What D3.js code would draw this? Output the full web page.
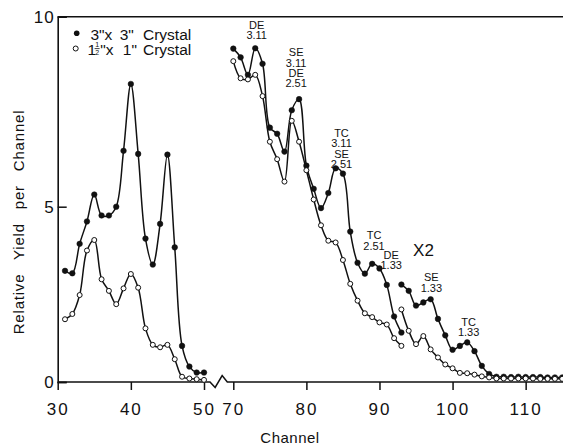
<!DOCTYPE html>
<html>
<head>
<meta charset="utf-8">
<script src="https://cdn.jsdelivr.net/npm/d3@7"></script>
<style>
  html, body { margin: 0; padding: 0; background: #fff; }
  svg { display: block; }
  text { font-family: "Liberation Sans", Arial, sans-serif; fill: #111; }
</style>
</head>
<body>
<svg id="chart" width="563" height="446"></svg>
<script>
// Channel numbers for each measured segment
const leftChannels = [31,32,33,34,35,36,37,38,39,40,41,42,43,44,45,46,47,48,49,50];
const rightChannels = [70,71,72,73,74,75,76,77,78,79,80,81,82,83,84,85,86,87,88,89,90,91,92,93];
const x2Channels = [93,94,95,96,97,98,99,100,101,102,103,104,105,106,107,108,109,110,111,112,113,114,115];

// 3" x 3" crystal (filled dots)
const large_left = [3.17,3.10,3.94,4.58,5.32,4.75,4.75,5.00,6.47,8.23,6.39,4.09,3.35,4.51,6.37,3.84,1.03,0.44,0.27,0.27];
const large_right = [9.16,8.93,8.47,9.17,8.76,7.08,6.92,6.45,7.54,7.83,6.08,5.47,4.96,5.36,6.01,5.87,4.29,3.40,3.09,3.37,3.24,2.77,1.87,1.41];
const large_x2 = [2.78,2.60,2.18,2.27,2.36,1.80,1.33,0.92,1.03,1.13,0.88,0.46,0.23,0.15,0.15,0.14,0.15,0.14,0.14,0.14,0.13,0.13,0.13];

// 1 1/2" x 1" crystal (open circles)
const small_left = [1.79,1.94,2.48,3.75,4.05,2.93,2.60,2.22,2.67,3.08,2.69,1.53,1.06,0.99,1.06,0.65,0.15,0.10,0.08,0.06];
const small_right = [8.83,8.38,8.35,8.47,7.91,6.71,6.25,5.66,7.26,6.71,5.96,5.19,4.47,4.03,3.98,3.48,2.80,2.32,1.96,1.85,1.70,1.64,1.25,1.03];
const small_x2 = [2.07,1.46,1.08,1.31,0.93,0.70,0.50,0.39,0.26,0.25,0.21,0.16,0.13,0.10,0.10,0.10,0.10,0.10,0.10,0.09,0.09,0.09,0.09];

// Axis ticks
const xTicks = [30,40,50,70,80,90,100,110];
const yTicks = [0,5,10];

// Peak identifications: channel / value of the bottom text line, lines of text
const peakLabels = [
  { ch: 73.2,  v: 9.41, lines: ["DE","3.11"] },
  { ch: 78.6,  v: 8.14, lines: ["SE","3.11","DE","2.51"] },
  { ch: 84.8,  v: 6.02, lines: ["TC","3.11","SE","2.51"] },
  { ch: 89.25, v: 3.77, lines: ["TC","2.51"] },
  { ch: 91.6,  v: 3.22, lines: ["DE","1.33"] },
  { ch: 97.1,  v: 2.58, lines: ["SE","1.33"] },
  { ch: 102.2, v: 1.31, lines: ["TC","1.33"] }
];

const svg = d3.select("#chart");

// Broken channel axis: 30-50, gap, 70-115
const x = d3.scaleLinear().domain([30,50,70,115]).range([57.7,204,233.3,562.2]);
const y = d3.scaleLinear().domain([0,5,10]).range([382,206.7,16.7]);

const ink = "#111";

// Frame: top border
svg.append("line")
  .attr("x1", x(30)).attr("x2", 563)
  .attr("y1", y(10)).attr("y2", y(10))
  .attr("stroke", ink).attr("stroke-width", 1.6);

// Bottom baseline with the zigzag break between 50 and 70
const xa = x(50) + 6, xb = x(70) - 6, xm = (xa + xb) / 2;
const base = y(0);
svg.append("path")
  .attr("d", d3.line()([
    [x(30), base], [xa, base], [xm - 3.5, base + 5.5], [xm + 3.5, base - 6.5], [xb, base], [563, base]
  ]))
  .attr("fill", "none").attr("stroke", ink).attr("stroke-width", 1.5).attr("stroke-linejoin", "miter");

const xAxis = svg.append("g")
  .attr("transform", `translate(0,${base})`)
  .call(d3.axisBottom(x).tickValues(xTicks).tickSize(8).tickPadding(13).tickFormat(d3.format("d")));
xAxis.select(".domain").remove();
xAxis.selectAll(".tick line").attr("stroke", ink).attr("stroke-width", 1.5);
xAxis.selectAll(".tick text")
  .attr("fill", ink).style("font-size", "17px").style("letter-spacing", "2px")
  .attr("font-family", null);

const yAxis = svg.append("g")
  .attr("transform", `translate(${x(30)},0)`)
  .call(d3.axisLeft(y).tickValues(yTicks).tickSize(-9).tickPadding(3).tickFormat(d3.format("d")));
yAxis.select(".domain").attr("stroke", ink).attr("stroke-width", 1.6);
yAxis.selectAll(".tick line").attr("stroke", ink).attr("stroke-width", 1.5);
yAxis.selectAll(".tick text")
  .attr("fill", ink).style("font-size", "17px").style("letter-spacing", "1px")
  .attr("font-family", null);

// Axis titles
svg.append("text")
  .attr("x", 290).attr("y", 443)
  .attr("text-anchor", "middle")
  .style("font-size", "15px").style("letter-spacing", "0.5px")
  .text("Channel");

svg.append("text")
  .attr("transform", "translate(24,222) rotate(-90)")
  .attr("text-anchor", "middle")
  .style("font-size", "15px").style("letter-spacing", "0.8px").style("word-spacing", "9px")
  .text("Relative Yield per Channel");

// Curves and markers
const curve = d3.line()
  .x(d => x(d[0])).y(d => y(d[1]))
  .curve(d3.curveCatmullRom.alpha(0.5));

const segments = [
  { ch: leftChannels,  v: large_left,  filled: true },
  { ch: rightChannels, v: large_right, filled: true },
  { ch: x2Channels,    v: large_x2,    filled: true },
  { ch: leftChannels,  v: small_left,  filled: false },
  { ch: rightChannels, v: small_right, filled: false },
  { ch: x2Channels,    v: small_x2,    filled: false }
];

segments.forEach(s => {
  const pts = s.ch.map((c, i) => [c, s.v[i]]);
  svg.append("path")
    .attr("d", curve(pts))
    .attr("fill", "none").attr("stroke", ink).attr("stroke-width", 1.5);
});

segments.forEach(s => {
  const pts = s.ch.map((c, i) => [c, s.v[i]]);
  svg.append("g").selectAll("circle").data(pts).join("circle")
    .attr("cx", d => x(d[0])).attr("cy", d => y(d[1]))
    .attr("r", s.filled ? 2.8 : 2.5)
    .attr("fill", s.filled ? ink : "#fff")
    .attr("stroke", ink).attr("stroke-width", s.filled ? 0.5 : 1);
});

// Peak labels
peakLabels.forEach(p => {
  const t = svg.append("text")
    .attr("text-anchor", "middle")
    .style("font-size", "11px");
  p.lines.forEach((ln, i) => {
    t.append("tspan")
      .attr("x", x(p.ch))
      .attr("y", y(p.v) - (p.lines.length - 1 - i) * 10.4)
      .text(ln);
  });
});

// Scale-factor note for the high-channel segment
svg.append("text")
  .attr("x", x(94.6)).attr("y", y(3.6))
  .style("font-size", "17px")
  .text("X2");

// Legend
const legend = svg.append("g");
legend.append("circle").attr("cx", 76.7).attr("cy", 33.3).attr("r", 2.8).attr("fill", ink);
legend.append("circle").attr("cx", 75.7).attr("cy", 48.5).attr("r", 2.5)
  .attr("fill", "#fff").attr("stroke", ink).attr("stroke-width", 1);

legend.append("text").attr("x", 90.5).attr("y", 39.5).style("font-size", "15.5px")
  .style("word-spacing", "3px").text('3"x 3"');
legend.append("text").attr("x", 143).attr("y", 39.5).style("font-size", "15.5px").text("Crystal");

// 1½"x 1" with a stacked fraction, as one text element
const sizeLabel = legend.append("text").attr("x", 87.5).attr("y", 54.5).style("font-size", "15.5px");
sizeLabel.append("tspan").text("1");
sizeLabel.append("tspan").attr("dx", -1).attr("dy", -8).style("font-size", "7px").text("1");
sizeLabel.append("tspan").attr("dx", -3.9).attr("dy", 8.3).style("font-size", "7px").text("2");
sizeLabel.append("tspan").attr("dx", 1.2).attr("dy", -0.3).style("word-spacing", "5px").text('"x 1"');
legend.append("line").attr("x1", 94.6).attr("x2", 99.6).attr("y1", 48.6).attr("y2", 48.6)
  .attr("stroke", ink).attr("stroke-width", 0.8);
legend.append("text").attr("x", 143).attr("y", 54.5).style("font-size", "15.5px").text("Crystal");
</script>
</body>
</html>
